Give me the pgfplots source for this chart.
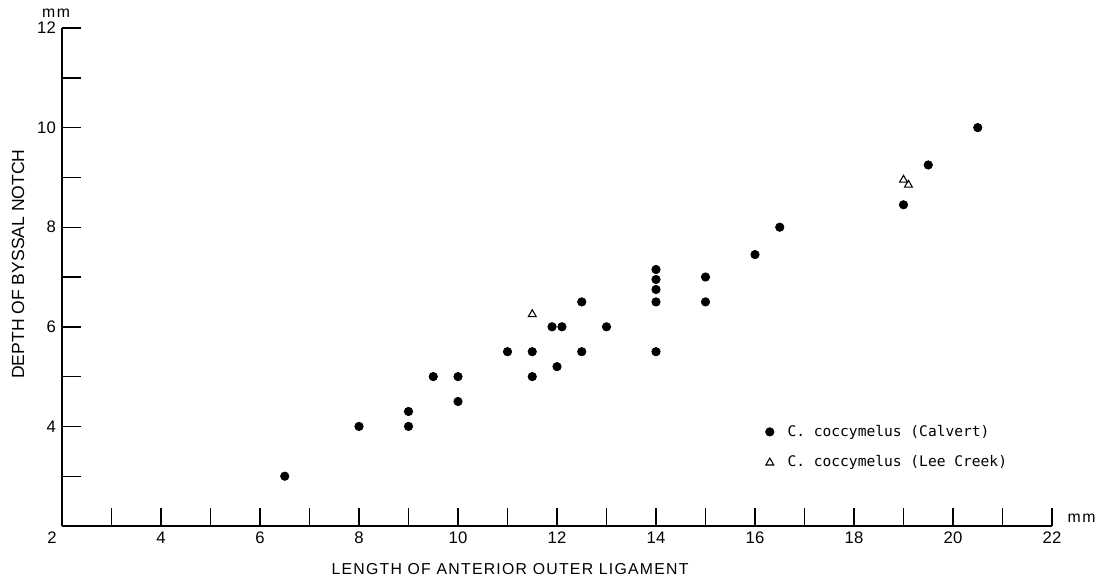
\documentclass[border=0pt]{standalone}
\usepackage{fontspec}
\setmainfont{Liberation Sans}
\newfontfamily\monofont{DejaVu Sans Mono}
\newfontfamily\lblfont[LetterSpace=8]{Liberation Sans}
\usepackage{pgfplots}
\pgfplotsset{compat=1.18}

\begin{document}
\begin{tikzpicture}
\begin{axis}[
    at={(0,0)}, anchor=south west,
    scale only axis,
    width=19.8cm, height=9.96cm,
    xmin=2, xmax=22,
    ymin=2, ymax=12,
    axis x line=bottom, axis y line=left,
    axis line style={-, line width=1.2pt},
    xtick={4,6,...,22}, minor xtick={3,5,...,21},
    ytick={4,6,...,12}, minor ytick={3,5,...,11},
    tick align=inside,
    major tick length=0.37cm, minor tick length=0.37cm,
    tick style={line width=0.8pt, black},
    ticklabel style={font=\fontsize{9.5}{11}\selectfont},
    /pgf/number format/assume math mode=true,
    clip=false,
    xlabel={LENGTH OF ANTERIOR OUTER LIGAMENT},
    xlabel style={at={(axis description cs:0.266,-0.086)}, anchor=west,
        font=\lblfont\fontsize{9}{10}\selectfont},
    ylabel={DEPTH OF BYSSAL NOTCH},
    ylabel style={at={(axis description cs:-0.0444,0.526)}, anchor=center,
        font=\fontsize{10}{12}\selectfont},
    legend style={at={(axis cs:16.1,3.58)}, anchor=west, draw=none, fill=none,
        font=\monofont\fontsize{8.3}{10}\selectfont, row sep=0.2cm,
        column sep=0.2cm},
    legend cell align=left,
]

% C. coccymelus (Calvert)
\addplot[only marks, mark=*, mark size=2.4pt, black]
    coordinates {
    (6.5,3.0)(8,4.0)(9,4.3)(9,4.0)(9.5,5.0)(10,5.0)(10,4.5)
    (11,5.5)(11.5,5.5)(11.5,5.0)(11.9,6.0)(12.1,6.0)(12,5.2)
    (12.5,6.5)(12.5,5.5)(13,6.0)
    (14,7.15)(14,6.95)(14,6.75)(14,6.5)(14,5.5)
    (15,7.0)(15,6.5)(16,7.45)(16.5,8.0)
    (19,8.45)(19.5,9.25)(20.5,10.0)
    };

% C. coccymelus (Lee Creek)
\addplot[only marks, mark=triangle, mark size=2.6pt, black,
    mark options={line width=0.6pt}]
    coordinates {
    (11.5,6.25)(19.0,8.95)(19.1,8.85)
    };

\legend{C. coccymelus (Calvert), C. coccymelus (Lee Creek)}

\node[anchor=north, font=\fontsize{9.5}{11}\selectfont] at (axis cs:1.8,2) {2};
\node[font=\fontsize{9}{10}\selectfont] at (axis description cs:-0.006,1.03) {m\kern0.1em m};
\node[font=\fontsize{9}{10}\selectfont] at (axis description cs:1.03,0.016) {m\kern0.1em m};
\end{axis}
\pgfresetboundingbox
\path[use as bounding box] (-1.24cm,-1.1cm) rectangle (20.72cm,10.52cm);
\end{tikzpicture}
\end{document}
